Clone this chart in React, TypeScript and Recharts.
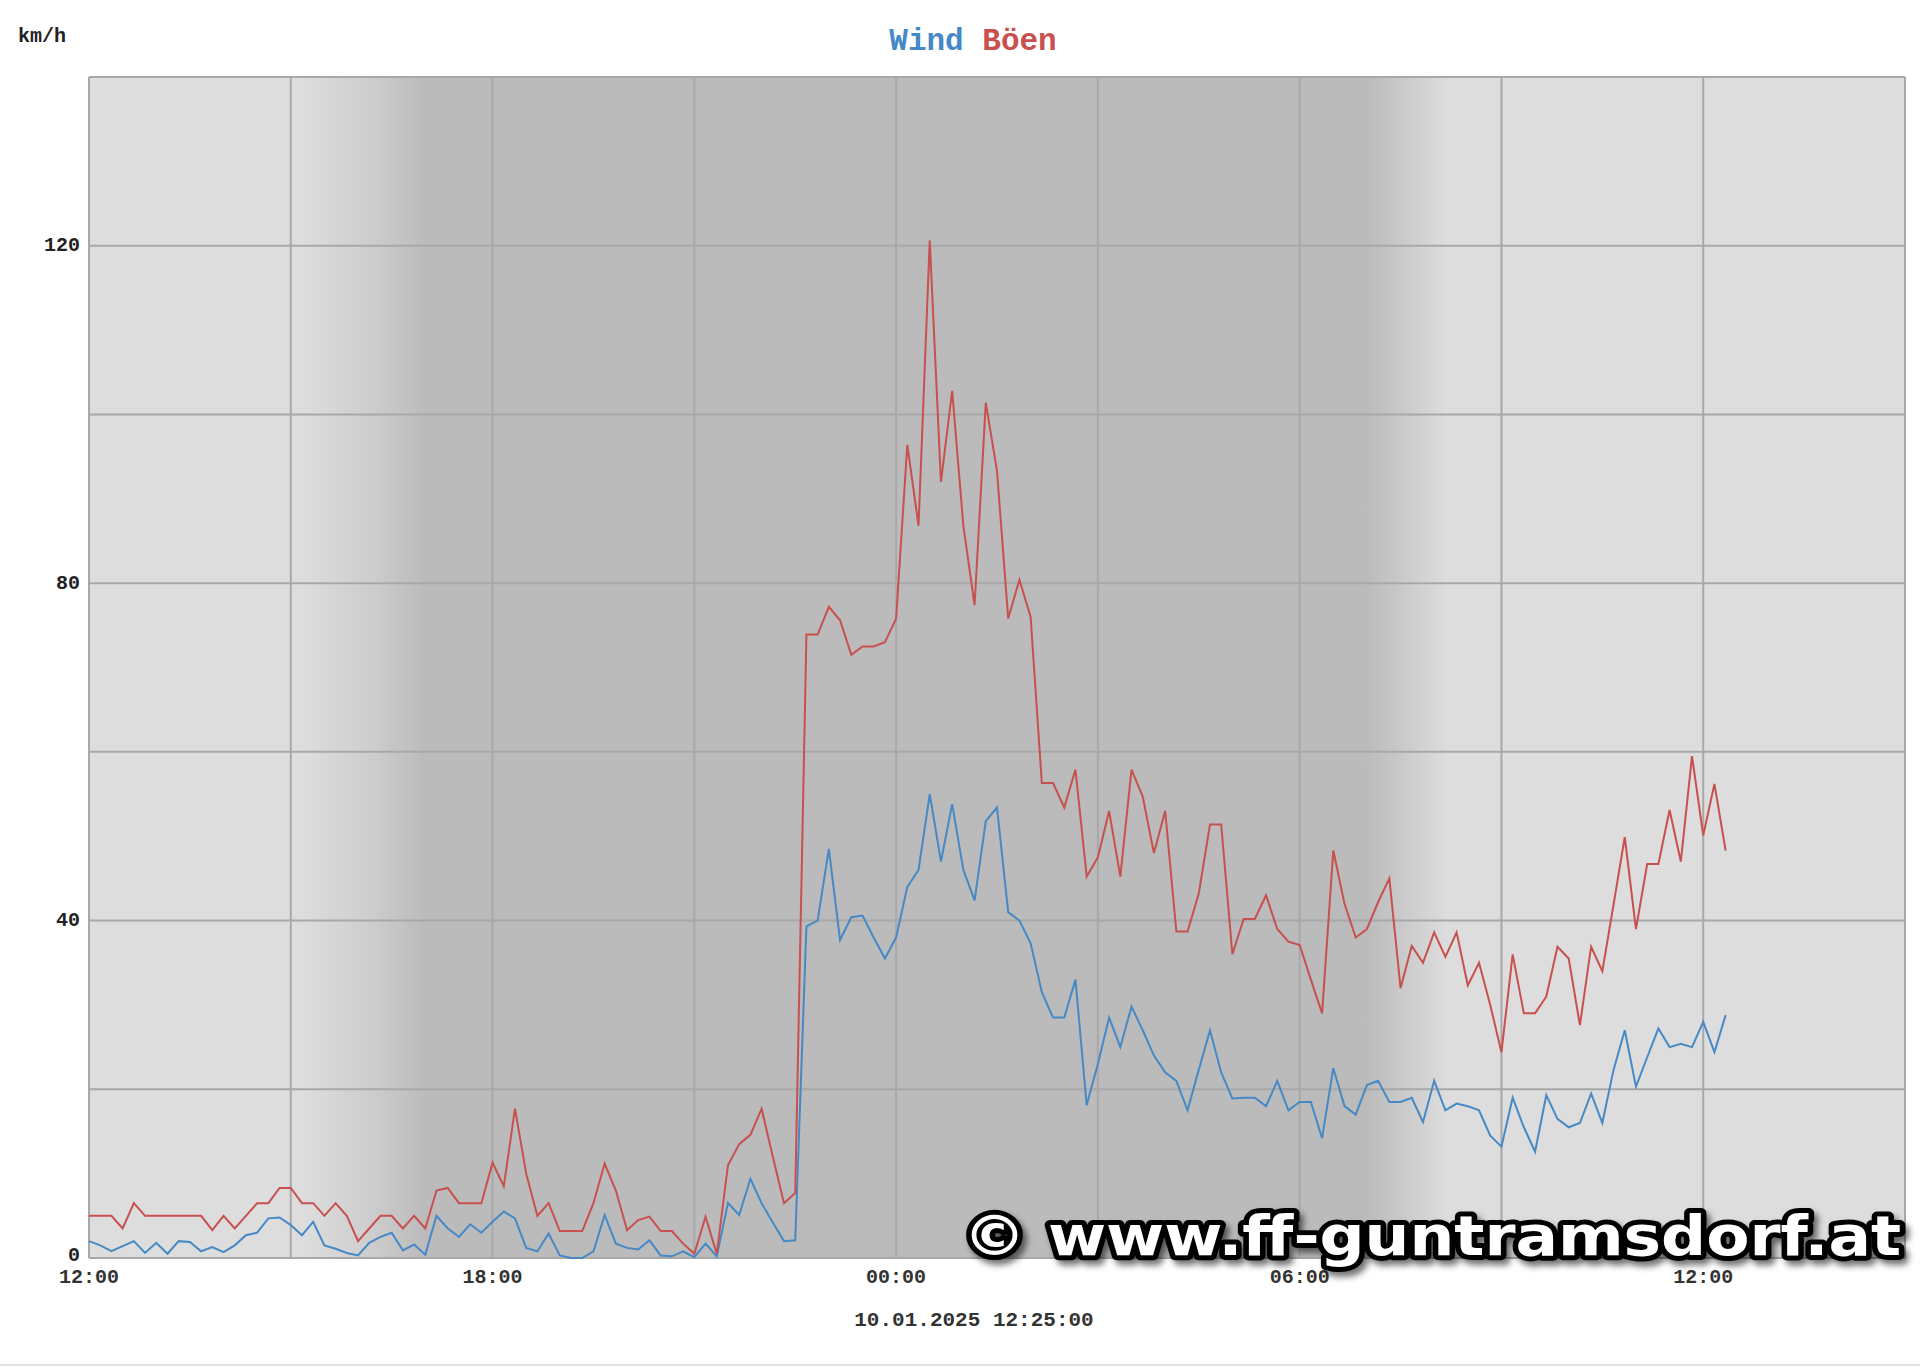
import React from "react";
import { LineChart, Line, XAxis, YAxis, CartesianGrid } from "recharts";

// hours since 12:00 on the x axis, km/h on the y axis
const hourTicks = [0, 3, 6, 9, 12, 15, 18, 21, 24, 27];
const hourLabels = ["12:00", "", "18:00", "", "00:00", "", "06:00", "", "12:00", ""];
const speedTicks = [0, 20, 40, 60, 80, 100, 120, 140];
const speedLabels = ["0", "", "40", "", "80", "", "120", ""];

// 10 minute samples from 09.01. 12:00 to 10.01. 12:20
const wind = [
  2, 1.5, 0.8, 1.4, 2, 0.6, 1.8, 0.5, 2, 1.9, 0.8, 1.3, 0.7, 1.5, 2.7, 3, 4.7, 4.8, 3.9, 2.7,
  4.3, 1.5, 1.1, 0.6, 0.3, 1.8, 2.5, 3, 0.9, 1.6, 0.4, 5, 3.5, 2.5, 4, 3, 4.3, 5.5, 4.7, 1.2,
  0.8, 2.9, 0.3, 0, 0, 0.8, 5.1, 1.7, 1.2, 1, 2.1, 0.3, 0.2, 0.8, 0.1, 1.7, 0.2, 6.5, 5.1, 9.4,
  6.5, 4.2, 2, 2.1, 39.3, 40, 48.5, 37.7, 40.4, 40.6, 38, 35.5, 38, 44, 46, 55, 47, 53.8, 46, 42.4,
  51.8, 53.4, 41, 40, 37.3, 31.5, 28.5, 28.5, 33, 18.1, 23, 28.5, 25, 29.8, 27, 24, 22, 21, 17.5, 22.3,
  27, 22, 18.9, 19, 19, 18, 21, 17.5, 18.5, 18.5, 14.2, 22.5, 18, 17, 20.5, 21, 18.5, 18.5, 19, 16.1,
  21, 17.5, 18.3, 18, 17.5, 14.5, 13.2, 19, 15.5, 12.6, 19.3, 16.5, 15.5, 16, 19.5, 16, 22.3, 27, 20.3, 23.8,
  27.2, 25, 25.4, 25, 28, 24.4, 28.8,
];

const gusts = [
  5, 5, 5, 3.5, 6.5, 5, 5, 5, 5, 5, 5, 3.3, 5, 3.5, 5, 6.5, 6.5, 8.3, 8.3, 6.5,
  6.5, 5, 6.5, 5, 2, 3.5, 5, 5, 3.5, 5, 3.5, 8, 8.3, 6.5, 6.5, 6.5, 11.3, 8.5, 17.7, 10,
  5, 6.5, 3.2, 3.2, 3.2, 6.5, 11.2, 8, 3.3, 4.5, 4.9, 3.2, 3.2, 1.7, 0.5, 4.9, 0.5, 11, 13.5, 14.6,
  17.7, 12, 6.5, 7.7, 73.9, 73.9, 77.2, 75.6, 71.5, 72.5, 72.5, 73, 75.8, 96.4, 86.8, 120.6, 92, 102.8, 86.8, 77.4,
  101.4, 93.3, 75.8, 80.4, 76, 56.3, 56.3, 53.4, 57.9, 45.2, 47.5, 53, 45.2, 57.9, 54.7, 48, 53, 38.7, 38.7, 43.2,
  51.4, 51.4, 36, 40.2, 40.2, 43, 39, 37.5, 37.1, 33, 29, 48.3, 42, 38, 39, 42.2, 45, 32, 37, 35,
  38.6, 35.7, 38.6, 32.3, 35, 30, 24.4, 36, 29, 29, 31, 36.9, 35.5, 27.6, 36.9, 34, 41.9, 49.9, 39, 46.7,
  46.7, 53.1, 47, 59.5, 50.1, 56.2, 48.3,
];

const data = wind.map((w, i) => ({ t: i / 6, wind: w, gust: gusts[i] }));

const WIND = "#4689c6";
const GUST = "#c8504f";
const DAY = "#dddddd";
const NIGHT = "#bbbbbb";
const FONT = "'Liberation Mono', 'DejaVu Sans Mono', monospace";

const XTick = (props: any) => {
  const { x, y, index } = props;
  return (
    <text x={x} y={y + 19} textAnchor="middle" dominantBaseline="central"
      fontFamily={FONT} fontWeight="bold" fontSize={20} fill="#333">
      {hourLabels[index]}
    </text>
  );
};

const YTick = (props: any) => {
  const { x, y, index } = props;
  return (
    <text x={x - 9} y={index === 0 ? y - 3 : y} textAnchor="end" dominantBaseline="central"
      fontFamily={FONT} fontWeight="bold" fontSize={20} fill="#222">
      {speedLabels[index]}
    </text>
  );
};

export default function App() {
  return (
    <div style={{ position: "absolute", left: 0, top: 0, width: 1920, height: 1370, background: "#fff" }}>
      <svg width={0} height={0} style={{ position: "absolute" }}>
        <defs>
          <linearGradient id="dayNight" x1="0" y1="0" x2="1" y2="0">
            <stop offset={3.2 / 27} stopColor={DAY} />
            <stop offset={4.2 / 27} stopColor="#cdcdcd" />
            <stop offset={5.0 / 27} stopColor={NIGHT} />
            <stop offset={19.0 / 27} stopColor={NIGHT} />
            <stop offset={19.6 / 27} stopColor="#cccccc" />
            <stop offset={20.2 / 27} stopColor={DAY} />
          </linearGradient>
        </defs>
      </svg>

      <LineChart width={1920} height={1370} data={data}
        margin={{ top: 77, right: 15, bottom: 82, left: 0 }}>
        <CartesianGrid stroke="#a8a8a8" strokeWidth={2} fill="url(#dayNight)" fillOpacity={1} />
        <XAxis dataKey="t" type="number" domain={[0, 27]} ticks={hourTicks}
          axisLine={false} tickLine={false} tickSize={0} tickMargin={0} height={30}
          interval={0} tick={<XTick />} />
        <YAxis type="number" domain={[0, 140]} ticks={speedTicks}
          axisLine={false} tickLine={false} tickSize={0} tickMargin={0} width={89}
          interval={0} tick={<YTick />} />
        <Line type="linear" dataKey="wind" stroke={WIND} strokeWidth={2} dot={false} isAnimationActive={false} />
        <Line type="linear" dataKey="gust" stroke={GUST} strokeWidth={2} dot={false} isAnimationActive={false} />
      </LineChart>

      <svg width={1920} height={1370} style={{ position: "absolute", left: 0, top: 0, pointerEvents: "none" }}>
        <text x={18} y={36} dominantBaseline="central" fontFamily={FONT} fontWeight="bold" fontSize={20} fill="#222">
          km/h
        </text>
        <text x={973} y={41} textAnchor="middle" dominantBaseline="central" fontFamily={FONT} fontWeight="bold" fontSize={31}>
          <tspan fill={WIND}>Wind</tspan>
          <tspan fill={GUST}> Böen</tspan>
        </text>
        <text x={974} y={1320} textAnchor="middle" dominantBaseline="central" fontFamily={FONT} fontWeight="bold" fontSize={21} fill="#333">
          10.01.2025 12:25:00
        </text>
        <text x={963} y={1255} textLength={938} lengthAdjust="spacingAndGlyphs"
          fontFamily="'DejaVu Sans', sans-serif" fontWeight="bold" fontSize={56}
          fill="#fff" stroke="#000" strokeWidth={10} strokeLinejoin="round"
          style={{ paintOrder: "stroke", filter: "drop-shadow(4px 5px 3px rgba(0,0,0,0.55))" }}>
          © www.ff-guntramsdorf.at
        </text>
      </svg>
      <div style={{ position: "absolute", left: 0, top: 1364, width: 1920, height: 2, background: "#e1e5ea" }} />
    </div>
  );
}
